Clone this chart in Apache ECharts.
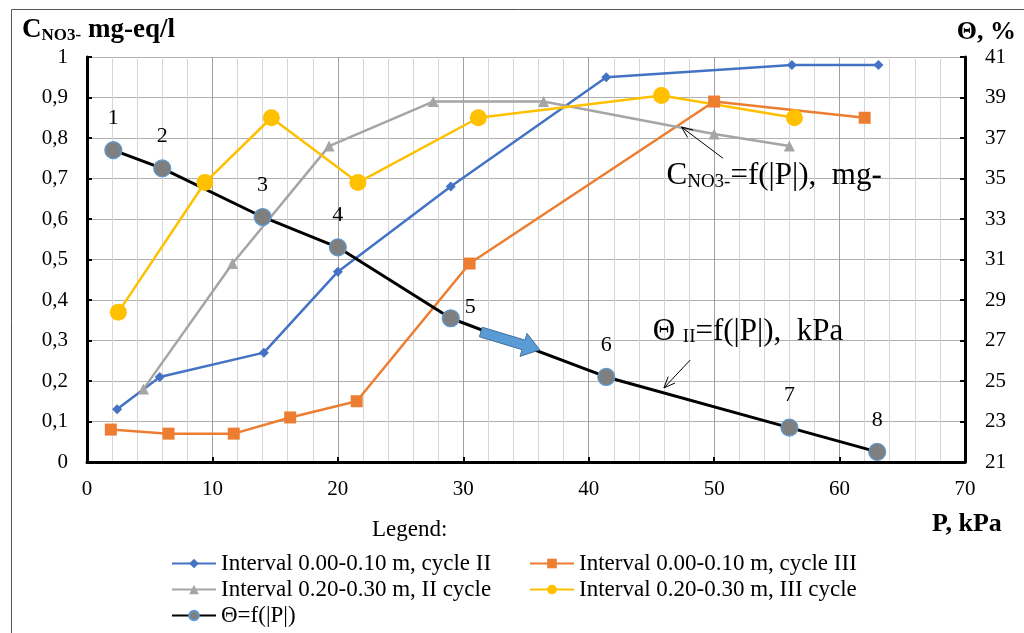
<!DOCTYPE html>
<html>
<head>
<meta charset="utf-8">
<title>C NO3 and Θ vs P</title>
<script src="https://cdn.jsdelivr.net/npm/echarts@6/dist/echarts.min.js"></script>
<style>
  html, body { margin: 0; padding: 0; background: #fff; }
  #main { width: 1024px; height: 633px; }
</style>
</head>
<body>
<div id="main"></div>
<script>
// values
var pressureBlue = [2.4, 5.8, 14.1, 20.0, 29.0, 41.4, 56.2, 63.1];
var concBlue = [0.13, 0.21, 0.27, 0.47, 0.68, 0.95, 0.98, 0.98];
var pressureOrange = [1.9, 6.5, 11.7, 16.2, 21.5, 30.5, 50.0, 62.0];
var concOrange = [0.08, 0.07, 0.07, 0.11, 0.15, 0.49, 0.89, 0.85];
var pressureGray = [4.5, 11.6, 19.3, 27.6, 36.4, 50.0, 56.0];
var concGray = [0.18, 0.49, 0.78, 0.89, 0.89, 0.81, 0.78];
var pressureYellow = [2.5, 9.4, 14.7, 21.6, 31.2, 45.8, 56.4];
var concYellow = [0.37, 0.69, 0.85, 0.69, 0.85, 0.905, 0.85];
var pressureTheta = [2.1, 6.0, 14.0, 20.0, 29.0, 41.4, 56.0, 63.0];
var theta = [36.4, 35.5, 33.1, 31.6, 28.1, 25.2, 22.7, 21.5];
var pointLabels = ['1', '2', '3', '4', '5', '6', '7', '8'];

var seriesNames = [
  'Interval 0.00-0.10 m, cycle II',
  'Interval 0.00-0.10 m, cycle III',
  'Interval 0.20-0.30 m, II cycle',
  'Interval 0.20-0.30 m, III cycle',
  'Θ=f(|P|)'
];
var xTicks = [0, 10, 20, 30, 40, 50, 60, 70];
var leftTicks = [0, 0.1, 0.2, 0.3, 0.4, 0.5, 0.6, 0.7, 0.8, 0.9, 1];
var rightTicks = [21, 23, 25, 27, 29, 31, 33, 35, 37, 39, 41];

// annotation anchors in data units (P, C)
var blueArrow = [31.4, 0.321, 36.1, 0.277];
var arrowC = [50.7, 0.75, 47.4, 0.827];
var arrowTheta = [48.1, 0.252, 46.0, 0.183];
var textC = [46.2, 0.709];
var textTheta = [45.1, 0.326];

var serif = '"Liberation Serif", "DejaVu Serif", serif';

function zip(xs, ys) {
  return xs.map(function (x, i) { return [x, ys[i]]; });
}

var chart = echarts.init(document.getElementById('main'));

function lineSeries(name, xs, ys, color, symbol, size, yIndex) {
  return {
    name: name,
    type: 'line',
    yAxisIndex: yIndex || 0,
    data: zip(xs, ys),
    symbol: symbol,
    symbolSize: size,
    showAllSymbol: true,
    lineStyle: { color: color, width: 2.5 },
    itemStyle: { color: color },
    emphasis: { disabled: true },
    animation: false
  };
}

var thetaSeries = lineSeries(seriesNames[4], pressureTheta, theta, '#000', 'circle', 17, 1);
thetaSeries.itemStyle = { color: '#7f7f7f', borderColor: '#5b9bd5', borderWidth: 1.2 };
thetaSeries.lineStyle = { color: '#000', width: 3 };
thetaSeries.data = thetaSeries.data.map(function (d, i) {
  var item = { value: d, label: { formatter: pointLabels[i] } };
  if (i === 4) item.label.position = 'right', item.label.distance = 5, item.label.offset = [0, -11];
  return item;
});
thetaSeries.label = {
  show: true, position: 'top', distance: 12,
  fontFamily: serif, fontSize: 22, color: '#000'
};

function arrowHead(p1, p2, len, spread) {
  var dx = p2[0] - p1[0], dy = p2[1] - p1[1];
  var a = Math.atan2(dy, dx);
  var l = [p2[0] - len * Math.cos(a - spread), p2[1] - len * Math.sin(a - spread)];
  var r = [p2[0] - len * Math.cos(a + spread), p2[1] - len * Math.sin(a + spread)];
  return { type: 'polyline', shape: { points: [l, p2, r] }, style: { stroke: '#000', lineWidth: 1, fill: null } };
}

var annoRich = {
  a: { fontFamily: serif, fontSize: 31, fill: '#000', verticalAlign: 'bottom', lineHeight: 34 },
  s: { fontFamily: serif, fontSize: 19, fill: '#000', verticalAlign: 'bottom', lineHeight: 16 }
};

var annoSeries = {
  name: 'anno',
  type: 'custom',
  data: [[0, 0]],
  clip: false,
  silent: true,
  z: 5,
  renderItem: function (params, api) {
    var kids = [];
    // block arrow
    var a = api.coord([blueArrow[0], blueArrow[1]]);
    var b = api.coord([blueArrow[2], blueArrow[3]]);
    var dx = b[0] - a[0], dy = b[1] - a[1], L = Math.sqrt(dx * dx + dy * dy);
    var ux = dx / L, uy = dy / L, nx = -uy, ny = ux;
    var hl = 17, bw = 5, hw = 12;
    var h = [b[0] - ux * hl, b[1] - uy * hl];
    kids.push({
      type: 'polygon',
      shape: { points: [
        [a[0] + nx * bw, a[1] + ny * bw],
        [h[0] + nx * bw, h[1] + ny * bw],
        [h[0] + nx * hw, h[1] + ny * hw],
        b,
        [h[0] - nx * hw, h[1] - ny * hw],
        [h[0] - nx * bw, h[1] - ny * bw],
        [a[0] - nx * bw, a[1] - ny * bw]
      ] },
      style: { fill: '#5b9bd5', stroke: '#41719c', lineWidth: 1 }
    });
    [arrowC, arrowTheta].forEach(function (ar) {
      var p1 = api.coord([ar[0], ar[1]]), p2 = api.coord([ar[2], ar[3]]);
      kids.push({ type: 'line', shape: { x1: p1[0], y1: p1[1], x2: p2[0], y2: p2[1] }, style: { stroke: '#000', lineWidth: 1 } });
      kids.push(arrowHead(p1, p2, 12, 0.4));
    });
    var tc = api.coord(textC);
    kids.push({
      type: 'text', x: tc[0], y: tc[1],
      style: { text: '{a|C}{s|NO3-}{a|=f(|P|),  mg-}', verticalAlign: 'middle', align: 'left', rich: annoRich }
    });
    var tt = api.coord(textTheta);
    kids.push({
      type: 'text', x: tt[0], y: tt[1],
      style: { text: '{a|Θ }{s|II}{a|=f(|P|),  kPa}', verticalAlign: 'middle', align: 'left', rich: annoRich }
    });
    return { type: 'group', children: kids };
  }
};

var legendText = { fontFamily: serif, fontSize: 23, color: '#000', lineHeight: 22 };

var option = {
  backgroundColor: '#fff',
  animation: false,
  grid: { left: 87, right: 59, top: 57, bottom: 171, containLabel: false },
  legend: [{
    data: [seriesNames[0], seriesNames[2], seriesNames[4]],
    orient: 'vertical', left: 171, top: 552, padding: 0,
    itemWidth: 44, itemHeight: 12, itemGap: 3,
    selectedMode: false, textStyle: legendText
  }, {
    data: [seriesNames[1], seriesNames[3]],
    orient: 'vertical', left: 529, top: 552, padding: 0,
    itemWidth: 44, itemHeight: 12, itemGap: 3,
    selectedMode: false, textStyle: legendText
  }],
  xAxis: {
    type: 'value', min: 0, max: 70, interval: 10,
    axisLine: { lineStyle: { color: '#000', width: 3 } },
    axisTick: { inside: true, length: 5, lineStyle: { color: '#000', width: 2 } },
    axisLabel: { color: '#000', fontFamily: serif, fontSize: 21, margin: 17,
      customValues: xTicks },
    splitLine: { show: true, lineStyle: { color: '#a0a0a0', width: 1 } },
    minorTick: { show: false, splitNumber: 5 },
    minorSplitLine: { show: true, lineStyle: { color: '#d6d6d6', width: 1 } }
  },
  yAxis: [{
    type: 'value', min: 0, max: 1, interval: 0.1,
    axisLine: { show: true, lineStyle: { color: '#000', width: 3 } },
    axisTick: { show: true, inside: true, length: 5, lineStyle: { color: '#000', width: 2 },
      customValues: leftTicks },
    axisLabel: { color: '#000', fontFamily: serif, fontSize: 21, margin: 19,
      customValues: leftTicks,
      formatter: function (v) { return String(+v.toFixed(1)).replace('.', ','); } },
    splitLine: { show: true, lineStyle: { color: '#b0b0b0', width: 1 } }
  }, {
    type: 'value', min: 21, max: 41, position: 'right',
    axisLine: { show: true, lineStyle: { color: '#000', width: 3 } },
    axisTick: { show: true, inside: true, length: 5, lineStyle: { color: '#000', width: 2 },
      customValues: rightTicks },
    axisLabel: { color: '#000', fontFamily: serif, fontSize: 21, margin: 20,
      customValues: rightTicks },
    splitLine: { show: false }
  }],
  graphic: [
    { type: 'rect', left: 9, top: 7, silent: true,
      shape: { width: 1040, height: 660 }, style: { fill: null, stroke: '#555', lineWidth: 1 } },
    { type: 'text', left: 22, top: 17, style: {
      text: '{c|C}{s|NO3-}{c| mg-eq/l}',
      rich: {
        c: { fontFamily: serif, fontSize: 27, fontWeight: 'bold', fill: '#000', verticalAlign: 'bottom', lineHeight: 30 },
        s: { fontFamily: serif, fontSize: 17, fontWeight: 'bold', fill: '#000', verticalAlign: 'bottom', lineHeight: 13 }
      } } },
    { type: 'text', right: 8, top: 19, style: {
      text: 'Θ, %', fontFamily: serif, fontSize: 26, fontWeight: 'bold', fill: '#000' } },
    { type: 'text', left: 932, top: 511, style: {
      text: 'P, kPa', fontFamily: serif, fontSize: 26, fontWeight: 'bold', fill: '#000' } },
    { type: 'text', left: 372, top: 518, style: {
      text: 'Legend:', fontFamily: serif, fontSize: 23, fill: '#000' } }
  ],
  series: [
    lineSeries(seriesNames[0], pressureBlue, concBlue, '#4472c4', 'diamond', 10),
    lineSeries(seriesNames[1], pressureOrange, concOrange, '#ed7d31', 'rect', 12),
    lineSeries(seriesNames[2], pressureGray, concGray, '#a5a5a5', 'triangle', 11),
    lineSeries(seriesNames[3], pressureYellow, concYellow, '#ffc000', 'circle', 17),
    thetaSeries,
    annoSeries
  ]
};

chart.setOption(option);
</script>
</body>
</html>
